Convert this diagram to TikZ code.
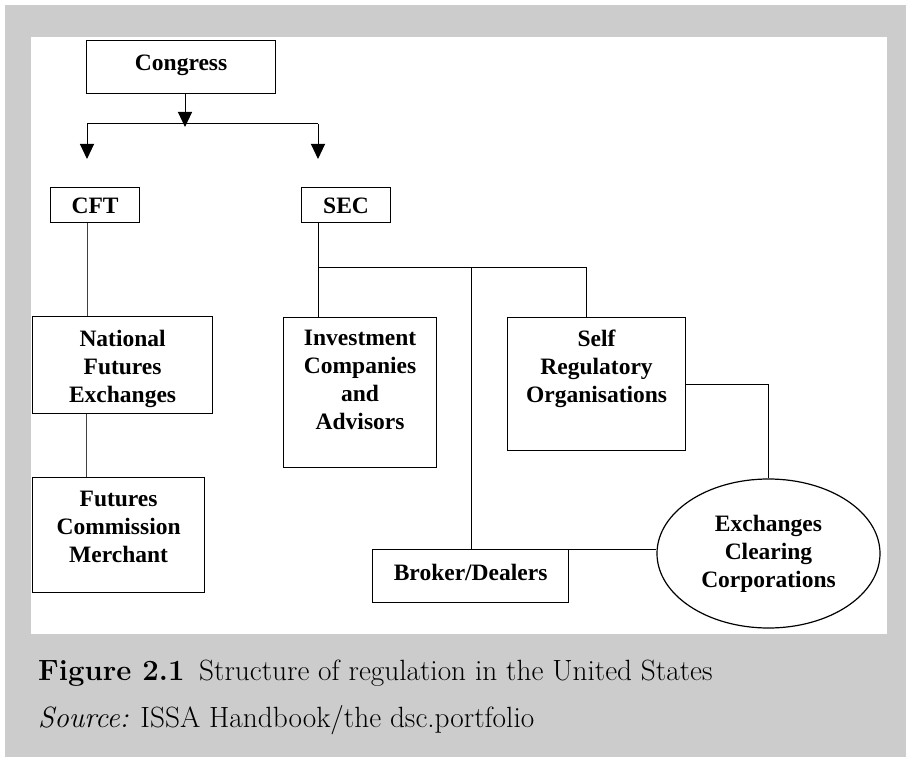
\documentclass[tikz,border=0pt]{standalone}
\usepackage{fontspec}
\newfontfamily\boxfont{Liberation Serif}
\usetikzlibrary{arrows.meta,shapes.geometric}
\definecolor{pagegray}{RGB}{204,204,204}
\tikzset{
  boxtext/.style={font=\boxfont\bfseries\fontsize{23.5}{28}\selectfont},
  unit/.style={boxtext, draw, line width=1.2pt, align=center, inner ysep=0pt, anchor=north west},
  hub/.style={boxtext, draw, ellipse, line width=1.2pt, align=center, inner sep=0pt},
  link/.style={line width=1pt},
  faint/.style={line width=0.7pt, black!75},
  down/.style={line width=1pt, -{Triangle[width=14pt,length=15pt]}}
}
\begin{document}
\begin{tikzpicture}[x=1pt, y=-1pt]
    \useasboundingbox (0,0) rectangle (906,757);

    % Gray page with the white panel
    \fill[pagegray] (5,5) rectangle (906,757);
    \fill[white] (31,37) rectangle (887,634);

    % Boxes (text height runs to the last baseline)
    \node[unit, minimum width=189, text height=30, text depth=23] (congress) at (86,40) {Congress};
    \node[unit, minimum width=89, text height=26, text depth=9] (cft) at (50,187) {CFT};
    \node[unit, minimum width=89, text height=26, text depth=9] (sec) at (301,187) {SEC};
    \node[unit, minimum width=180, text height=86, text depth=11] (nfe) at (32,316) {National\\Futures\\Exchanges};
    \node[unit, minimum width=172, text height=85, text depth=30] (fcm) at (32,477) {Futures\\Commission\\Merchant};
    \node[unit, minimum width=153, text height=112, text depth=38] (inv) at (283,317) {Investment\\Companies\\and\\Advisors};
    \node[unit, minimum width=178, text height=85, text depth=48] (sro) at (507,317) {Self\\Regulatory\\Organisations};
    \node[unit, minimum width=196, text height=31, text depth=22] (bd) at (372,549) {Broker/Dealers};
    \node[hub, minimum width=223, minimum height=149] (ecc) at (768.5,553.5) {Exchanges\\Clearing\\Corporations};

    % Split points below Congress
    \coordinate (split) at (185,127);
    \coordinate (lft) at (87,124);
    \coordinate (rgt) at (318,124);
    \coordinate (cfttip) at (87,159);
    \coordinate (sectip) at (318,159);

    % Arrows from Congress
    \draw[down] (congress.south -| split) -- (split);
    \draw[link] (lft) -- (rgt);
    \draw[down] (lft) -- (cfttip);
    \draw[down] (rgt) -- (sectip);

    % CFT branch
    \draw[faint] (cft.south -| lft) -- (nfe.north -| lft);
    \draw[faint] (nfe.south -| 86,0) -- (fcm.north -| 86,0);

    % SEC branch
    \coordinate (bus) at (318,267);
    \coordinate (srotop) at (586,267);
    \coordinate (bdtop) at (471,267);
    \draw[link] (sec.south -| rgt) -- (inv.north -| rgt);
    \draw[link] (bus) -- (srotop) -- (sro.north -| srotop);
    \draw[link] (bdtop) -- (bd.north -| bdtop);
    \draw[link] (sro.east) -| (ecc.north);
    \draw[link] (bd.north east) -- (bd.north east -| ecc.west);

    % Caption
    \node[anchor=base west, inner sep=0pt, font=\fontsize{29.3}{32}\selectfont] (title) at (38,680)
        {\textbf{Figure 2.1}\enspace Structure of regulation in the United States};
    \node[anchor=base west, inner sep=0pt, font=\fontsize{29.3}{32}\selectfont] (source) at (38,727)
        {\textit{Source:} ISSA Handbook/the dsc.portfolio};
\end{tikzpicture}
\end{document}
